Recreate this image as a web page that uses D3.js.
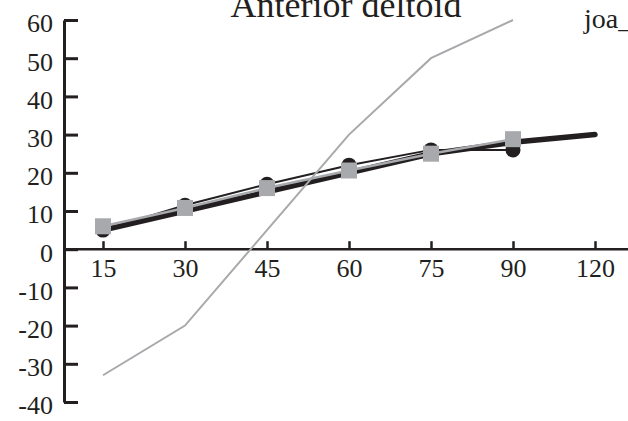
<!DOCTYPE html>
<html>
<head>
<meta charset="utf-8">
<script src="https://cdn.jsdelivr.net/npm/d3@7"></script>
<style>
  html, body { margin: 0; padding: 0; background: #fff; }
  svg { display: block; font-family: "Liberation Serif", "Times New Roman", serif; }
</style>
</head>
<body>
<svg id="chart" width="628" height="421"></svg>
<script>
// Joint angles (degrees) on the category axis
const angles = ["15", "30", "45", "60", "75", "90", "120"];
const yTicks = [-40, -30, -20, -10, 0, 10, 20, 30, 40, 50, 60];

// Thick black curve (no markers), spans every angle
const thickBlack = [5, 10, 15, 20, 25, 28, 30];
// Black circles with thin black line
const blackCircles = [5, 11.5, 17, 22, 26, 26];
// Grey squares with grey line
const greySquares = [6, 10.8, 16, 20.6, 25, 28.8];
// Thin grey line
const thinGrey = [-33, -20, 5, 30, 50, 60];

const ink = "#231f20";
const grey = "#a7a9ac";

const svg = d3.select("#chart");

const x = d3.scalePoint().domain(angles).range([103, 595]);
const y = d3.scaleLinear().domain([-40, 60]).range([402, 20]);
const axisX = 64;

// Title and corner text
svg.append("text").attr("x", 346).attr("y", 17).attr("text-anchor", "middle")
  .attr("font-size", 36).attr("fill", ink).text("Anterior deltoid");
svg.append("text").attr("x", 584).attr("y", 28)
  .attr("font-size", 28).attr("fill", ink).text("joa_");

// Y axis: ticks point into the plot, labels use a plain hyphen for negatives
const gy = svg.append("g").attr("transform", `translate(${axisX},0)`)
  .call(d3.axisLeft(y).tickValues(yTicks).tickFormat(d => String(d))
    .tickSizeInner(-14).tickSizeOuter(0).tickPadding(11))
  .attr("font-family", null).attr("font-size", 26);
gy.select(".domain").attr("stroke", ink).attr("stroke-width", 3);
gy.selectAll(".tick line").attr("stroke", ink).attr("stroke-width", 3);
gy.selectAll(".tick text").attr("fill", ink).attr("dy", "0.46em");

// X axis along y = 0, ticks point upward
const gx = svg.append("g").attr("transform", `translate(0,${y(0)})`)
  .call(d3.axisBottom(x).tickSizeInner(-8).tickSizeOuter(0).tickPadding(9))
  .attr("font-family", null).attr("font-size", 26);
gx.select(".domain").remove();
gx.append("line").attr("x1", axisX).attr("x2", 628).attr("y1", 0).attr("y2", 0)
  .attr("stroke", ink).attr("stroke-width", 2.5);
gx.selectAll(".tick line").attr("stroke", ink).attr("stroke-width", 2.5);
gx.selectAll(".tick text").attr("fill", ink);

const line = d3.line().x((d, i) => x(angles[i])).y(d => y(d));

// Thick black curve
svg.append("path").datum(thickBlack).attr("d", line)
  .attr("fill", "none").attr("stroke", ink).attr("stroke-width", 5.5)
  .attr("stroke-linecap", "round").attr("stroke-linejoin", "round");

// Black circle series
svg.append("path").datum(blackCircles).attr("d", line)
  .attr("fill", "none").attr("stroke", ink).attr("stroke-width", 2);
svg.selectAll("circle.pt").data(blackCircles).join("circle").attr("class", "pt")
  .attr("cx", (d, i) => x(angles[i])).attr("cy", d => y(d)).attr("r", 7.5).attr("fill", ink);

// Grey square series
svg.append("path").datum(greySquares).attr("d", line)
  .attr("fill", "none").attr("stroke", grey).attr("stroke-width", 2.5);
const sq = 16;
svg.selectAll("rect.pt").data(greySquares).join("rect").attr("class", "pt")
  .attr("x", (d, i) => x(angles[i]) - sq / 2).attr("y", d => y(d) - sq / 2)
  .attr("width", sq).attr("height", sq).attr("fill", grey);

// Thin grey line
svg.append("path").datum(thinGrey).attr("d", line)
  .attr("fill", "none").attr("stroke", grey).attr("stroke-width", 2);
</script>
</body>
</html>
